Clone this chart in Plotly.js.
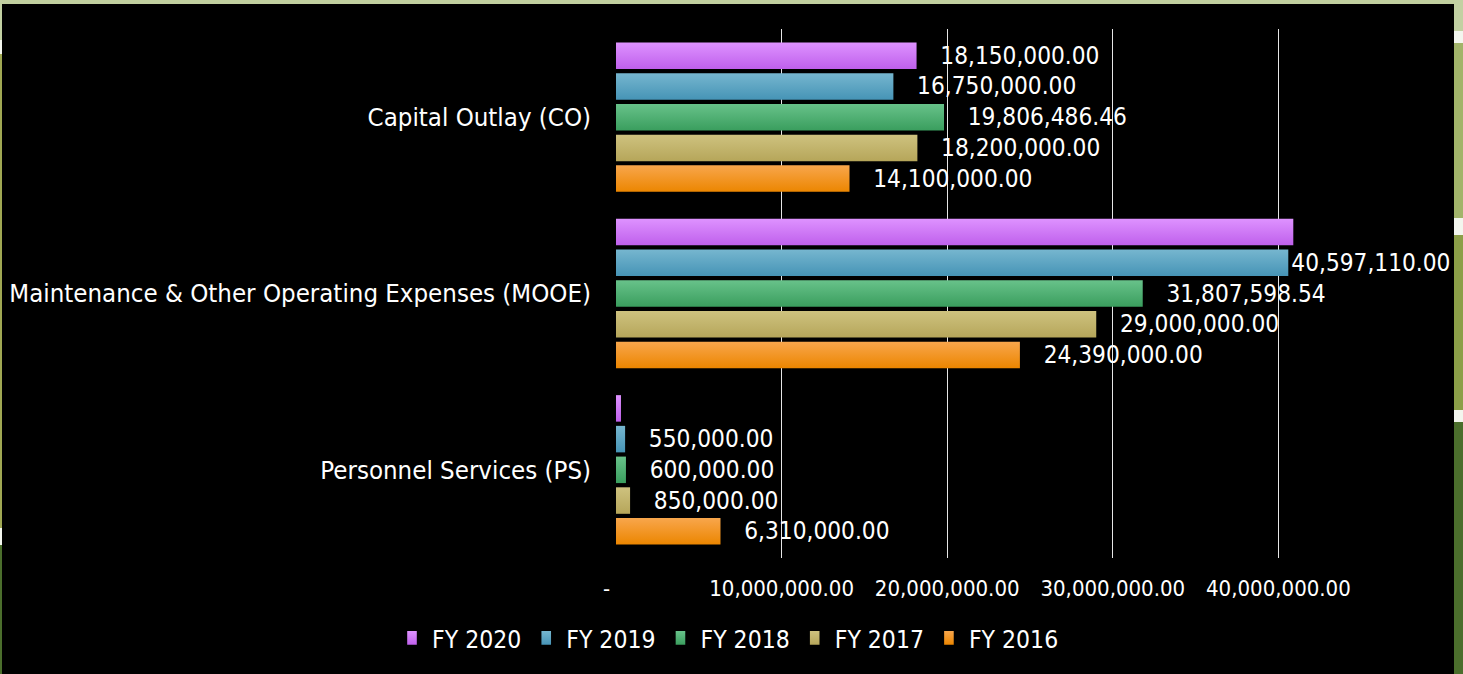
<!DOCTYPE html>
<html>
<head>
<meta charset="utf-8">
<script src="https://cdn.plot.ly/plotly-3.0.1.min.js"></script>
<style>
  html, body { margin: 0; padding: 0; }
  body { width: 1463px; height: 674px; position: relative; overflow: hidden; background: #c1cf9f; }
  .band { position: absolute; }
  #chart { position: absolute; left: 2px; top: 4px; width: 1452px; height: 670px; background: #000; }
</style>
</head>
<body>
<!-- decorative slide background strips -->
<div class="band" style="left:1454px;top:0;width:9px;height:31px;background:#c2d0a2"></div>
<div class="band" style="left:1454px;top:31px;width:9px;height:12px;background:#f3f6ee"></div>
<div class="band" style="left:1454px;top:43px;width:9px;height:175px;background:#a2b46a"></div>
<div class="band" style="left:1454px;top:218px;width:9px;height:17px;background:#f3f6ee"></div>
<div class="band" style="left:1454px;top:235px;width:9px;height:175px;background:#8c9f48"></div>
<div class="band" style="left:1454px;top:410px;width:9px;height:12px;background:#f3f6ee"></div>
<div class="band" style="left:1454px;top:422px;width:9px;height:252px;background:#4b6e2c"></div>
<div class="band" style="left:0;top:0;width:2px;height:40px;background:#c2d0a2"></div>
<div class="band" style="left:0;top:40px;width:2px;height:14px;background:#f3f6ee"></div>
<div class="band" style="left:0;top:54px;width:2px;height:474px;background:#a0a853"></div>
<div class="band" style="left:0;top:528px;width:2px;height:17px;background:#f3f6ee"></div>
<div class="band" style="left:0;top:545px;width:2px;height:129px;background:#4b6e2c"></div>
<div id="chart"></div>
<script>
// ---- data ----
const categories = ['Personnel Services (PS)', 'Maintenance & Other Operating Expenses (MOOE)', 'Capital Outlay (CO)'];
const seriesNames = ['FY 2016', 'FY 2017', 'FY 2018', 'FY 2019', 'FY 2020'];
const fy2016 = [6310000, 24390000, 14100000];
const fy2017 = [850000, 29000000, 18200000];
const fy2018 = [600000, 31807598.54, 19806486.46];
const fy2019 = [550000, 40597110, 16750000];
const fy2020 = [300000, 40900000, 18150000];
const tickValues = [0, 10000000, 20000000, 30000000, 40000000];
const tickLabels = ['-\u00a0\u00a0\u00a0', '10,000,000.00', '20,000,000.00', '30,000,000.00', '40,000,000.00'];

// ---- styles ----
const FONT = 'DejaVu Sans Condensed, DejaVu Sans, sans-serif';
const midColors = ['#f69418', '#c6b96f', '#4eb072', '#55a6c6', '#d079f8'];
const gradColors = [
  ['#f8a64c', '#ec8600'],
  ['#cec27f', '#b6a65a'],
  ['#68c28a', '#3a9e5e'],
  ['#76b6cf', '#4694b6'],
  ['#de92ff', '#bf60ec']
];
const PAD = '\u00a0\u00a0\u00a0';
const FMT = '%{x:,.2f}';

const values = [fy2016, fy2017, fy2018, fy2019, fy2020];
const templates = [
  [PAD + FMT, PAD + FMT, PAD + FMT],
  [PAD + FMT, PAD + FMT, PAD + FMT],
  [PAD + FMT, PAD + FMT, PAD + FMT],
  [PAD + FMT, FMT, PAD + FMT],
  [PAD + FMT, PAD + FMT, PAD + FMT]
];
const positions = [
  ['outside', 'outside', 'outside'],
  ['outside', 'outside', 'outside'],
  ['outside', 'outside', 'outside'],
  ['outside', 'outside', 'outside'],
  ['none', 'none', 'outside']
];

const data = seriesNames.map(function (name, i) {
  return {
    type: 'bar',
    orientation: 'h',
    name: name,
    y: categories,
    x: values[i],
    marker: { color: midColors[i], line: { width: 0 } },
    texttemplate: templates[i],
    textposition: positions[i],
    textfont: { family: FONT, size: 24.2, color: '#ffffff' },
    outsidetextfont: { family: FONT, size: 24.2, color: '#ffffff' },
    constraintext: 'none',
    cliponaxis: false,
    hoverinfo: 'skip'
  };
});

const layout = {
  width: 1452,
  height: 670,
  paper_bgcolor: '#000000',
  plot_bgcolor: '#000000',
  margin: { l: 614, r: 10, t: 25, b: 116, pad: 0 },
  barmode: 'group',
  bargap: 0.129,
  bargroupgap: 0.137,
  font: { family: FONT, color: '#ffffff' },
  showlegend: true,
  legend: {
    orientation: 'h',
    traceorder: 'reversed',
    xref: 'container', yref: 'container',
    x: 0.5, xanchor: 'center',
    y: 0.0537, yanchor: 'middle',
    bgcolor: 'rgba(0,0,0,0)',
    font: { family: FONT, size: 24.5, color: '#ffffff' }
  },
  xaxis: {
    range: [0, 50000000],
    tickmode: 'array',
    tickvals: tickValues,
    ticktext: tickLabels,
    tickangle: 0,
    showgrid: true,
    gridcolor: '#e6e6e6',
    gridwidth: 1.3,
    zeroline: false,
    showline: false,
    ticks: '',
    ticklabelstandoff: 15,
    tickfont: { family: FONT, size: 22, color: '#ffffff' },
    fixedrange: true
  },
  yaxis: {
    type: 'category',
    categoryorder: 'array',
    categoryarray: categories,
    showgrid: false,
    zeroline: false,
    showline: false,
    ticks: '',
    ticklabelstandoff: 24,
    tickfont: { family: FONT, size: 25.6, color: '#ffffff' },
    fixedrange: true
  }
};

const gd = document.getElementById('chart');
Plotly.newPlot(gd, data, layout, { displayModeBar: false, staticPlot: true }).then(function () {
  try {
    const ns = 'http://www.w3.org/2000/svg';
    const svg = gd.querySelector('svg.main-svg');
    let defs = svg.querySelector('defs');
    if (!defs) { defs = document.createElementNS(ns, 'defs'); svg.insertBefore(defs, svg.firstChild); }
    gradColors.forEach(function (c, i) {
      const lg = document.createElementNS(ns, 'linearGradient');
      lg.setAttribute('id', 'bargrad' + i);
      lg.setAttribute('x1', '0'); lg.setAttribute('y1', '0');
      lg.setAttribute('x2', '0'); lg.setAttribute('y2', '1');
      [[0, c[0]], [1, c[1]]].forEach(function (s) {
        const st = document.createElementNS(ns, 'stop');
        st.setAttribute('offset', String(s[0]));
        st.setAttribute('stop-color', s[1]);
        lg.appendChild(st);
      });
      defs.appendChild(lg);
    });
    gd.querySelectorAll('.barlayer .trace').forEach(function (t, i) {
      t.querySelectorAll('.point path').forEach(function (p) { p.style.fill = 'url(#bargrad' + i + ')'; });
    });
    gd.querySelectorAll('.legend .traces').forEach(function (t) {
      const d = t.__data__;
      const idx = d && d[0] && d[0].trace ? d[0].trace.index : null;
      if (idx !== null) {
        t.querySelectorAll('.legendpoints path').forEach(function (p) {
          p.style.fill = 'url(#bargrad' + idx + ')';
          const tr = p.getAttribute('transform') || '';
          p.setAttribute('transform', tr + ' scale(0.8,1.15)');
        });
      }
    });
  } catch (e) { }
});
</script>
</body>
</html>
